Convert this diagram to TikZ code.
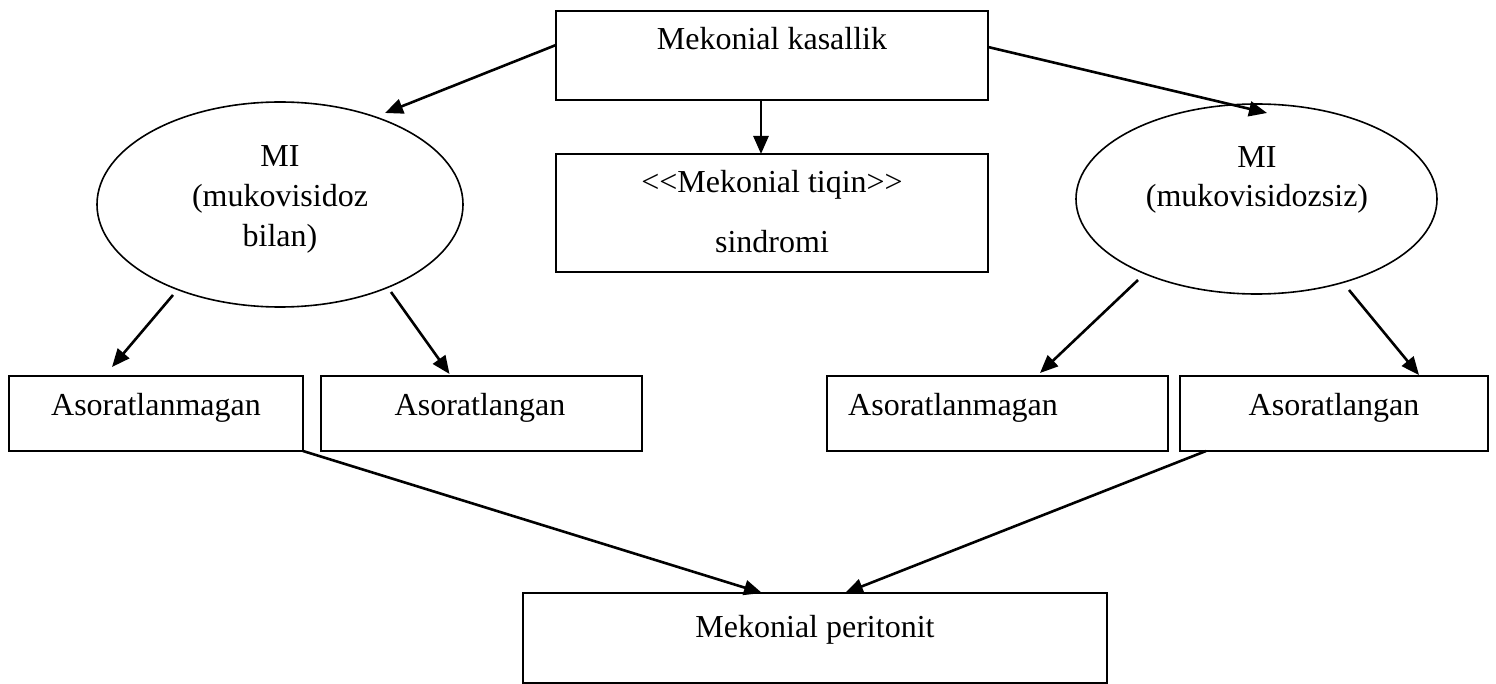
\documentclass[tikz,border=0pt]{standalone}
\usepackage{fontspec}
\setmainfont{Liberation Serif}
\usetikzlibrary{shapes.geometric,arrows.meta,calc}
\begin{document}
\begin{tikzpicture}[x=1pt,y=-1pt,
  box/.style={draw,line width=1.7pt,rectangle,inner sep=0pt,outer sep=0pt},
  oval/.style={draw,line width=1.6pt,ellipse,inner sep=0pt,outer sep=0pt},
  txt/.style={anchor=base,inner sep=0pt,font=\fontsize{32}{38}\selectfont},
  arr/.style={line width=2.6pt,-{Triangle[length=18pt,width=15pt]}}]
\useasboundingbox (0,0) rectangle (1496,684);
% shapes
\node[box,minimum width=432pt,minimum height=89pt] (top) at (772,55.5) {};
\node[box,minimum width=432pt,minimum height=118pt] (mid) at (772,213) {};
\node[oval,minimum width=366pt,minimum height=205pt] (ell1) at (280,204.5) {};
\node[oval,minimum width=361pt,minimum height=190pt] (ell2) at (1256.5,199) {};
\node[box,minimum width=294pt,minimum height=75pt] (a1) at (156,413.5) {};
\node[box,minimum width=321pt,minimum height=75pt] (a2) at (481.5,413.5) {};
\node[box,minimum width=341pt,minimum height=75pt] (b1) at (997.5,413.5) {};
\node[box,minimum width=308pt,minimum height=75pt] (b2) at (1334,413.5) {};
\node[box,minimum width=584pt,minimum height=90pt] (bot) at (815,638) {};
% texts
\node[txt] (ttop) at (772,50) {Mekonial kasallik};
\node[txt] (tmid1) at (772,193) {{<}{<}Mekonial tiqin{>}{>}};
\node[txt] (tmid2) at (772,253) {sindromi};
\node[txt] (te1a) at (280,167) {MI};
\node[txt] (te1b) at (280,207) {(mukovisidoz};
\node[txt] (te1c) at (280,247) {bilan)};
\node[txt] (te2a) at (1257,168) {MI};
\node[txt] (te2b) at (1257,207) {(mukovisidozsiz)};
\node[txt] (ta1) at (156,415) {Asoratlanmagan};
\node[txt] (ta2) at (480,415) {Asoratlangan};
\node[txt,anchor=base west] (tb1) at (848,415) {Asoratlanmagan};
\node[txt] (tb2) at (1334,415) {Asoratlangan};
\node[txt] (tbot) at (815,637) {Mekonial peritonit};
% connectors
\draw[arr] ($(top.west)+(0,-10.5)$) -- ($(ell1.center)+(105,-91.5)$);
\draw[arr] ($(top.east)+(0,-8.5)$) -- ($(ell2.center)+(10.5,-86)$);
\draw[arr] ($(top.south)+(-11,0)$) -- ($(mid.north)+(-11,0)$);
\draw[arr] ($(ell1.center)+(-107,90.5)$) -- ($(a1.north)+(-44,-9)$);
\draw[arr] ($(ell1.center)+(111,87.5)$) -- ($(a2.north)+(-32,-2)$);
\draw[arr] ($(ell2.center)+(-118.5,81)$) -- ($(b1.north)+(42.5,-3)$);
\draw[arr] ($(ell2.center)+(92.5,91)$) -- ($(b2.north)+(85,-1)$);
\draw[arr] (a1.south east) -- ($(bot.north)+(-53,0)$);
\draw[arr] ($(b2.south west)+(26,0)$) -- ($(bot.north)+(30,0)$);
\end{tikzpicture}
\end{document}
